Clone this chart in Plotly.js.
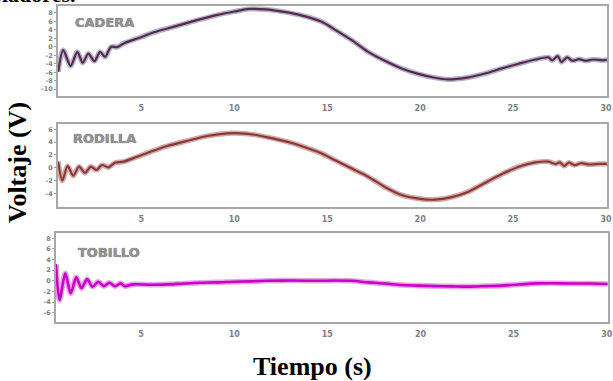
<!DOCTYPE html>
<html>
<head>
<meta charset="utf-8">
<script src="https://cdn.plot.ly/plotly-3.0.1.min.js"></script>
<style>html,body{margin:0;padding:0;background:#fff;}#chart{width:613px;height:381px;}</style>
</head>
<body>
<div id="chart"></div>
<script>
// ---- data ----
const caderaX = [0.53,0.8,1.2,1.56,1.85,2.15,2.48,2.78,3.05,3.38,3.7,4.1,4.95,5.6,6.4,7.3,8.2,9.1,10.0,10.8,11.7,12.7,13.6,14.7,15.5,16.3,17.2,18.1,19.0,19.9,20.8,21.5,22.6,23.5,24.4,25.3,26.2,26.9,27.1,27.4,27.6,27.9,28.2,28.55,28.9,29.3,29.8,30.05];
const caderaY = [-5.9,-0.8,-4.5,-1.2,-3.8,-1.6,-3.4,-1.2,-2.4,0.0,-0.1,0.9,2.2,3.3,4.3,5.4,6.5,7.5,8.3,8.9,8.8,8.2,7.4,5.9,3.8,1.6,-1.2,-3.3,-5.1,-6.4,-7.3,-7.7,-7.2,-6.3,-5.1,-4.0,-3.0,-2.5,-3.2,-2.2,-3.6,-2.5,-3.3,-2.9,-3.3,-3.0,-3.2,-3.1];

const rodillaX = [0.53,0.75,1.04,1.34,1.65,1.97,2.28,2.6,2.88,3.23,3.6,4.04,4.77,5.5,6.4,7.47,8.55,9.63,10.35,11.1,11.8,13.05,13.6,14.65,15.4,16.3,17.2,18.1,19.0,20.1,20.8,21.7,22.6,23.5,24.4,25.3,26.2,26.9,27.3,27.5,27.75,28.0,28.3,28.65,29.1,29.65,30.05];
const rodillaY = [0.94,-2.0,0.27,-1.25,0.16,-0.8,0.16,-0.36,0.42,0.06,0.8,0.94,1.7,2.5,3.4,4.2,4.95,5.37,5.37,5.15,4.75,3.9,3.4,2.3,1.2,-0.1,-1.4,-3.0,-4.27,-4.9,-5.0,-4.6,-3.75,-2.35,-1.0,0.16,0.84,0.94,0.58,0.84,0.27,0.8,0.4,0.7,0.5,0.6,0.6];

const tobilloX = [0.43,0.62,0.93,1.22,1.52,1.8,2.1,2.39,2.7,3.0,3.29,3.6,3.9,4.13,4.58,5.5,6.4,7.3,8.2,9.1,10.0,10.9,11.8,13.2,14.5,15.4,16.3,17.2,18.1,19.0,19.9,20.8,21.7,22.6,23.5,24.4,25.3,26.2,27.1,28.0,29.1,30.05];
const tobilloY = [3.1,-3.6,1.4,-2.35,0.65,-1.4,0.33,-1.1,-0.17,-1.0,-0.36,-1.0,-0.48,-1.0,-0.67,-0.75,-0.67,-0.5,-0.36,-0.3,-0.17,-0.1,0.0,0.05,0.0,0.05,0.0,-0.3,-0.5,-0.8,-0.9,-1.0,-1.05,-1.1,-1.0,-0.9,-0.7,-0.48,-0.45,-0.5,-0.5,-0.6];

const xTicks = [5,10,15,20,25,30];
const caderaTicks = [8,6,4,2,0,-2,-4,-6,-8,-10];
const rodillaTicks = [6,4,2,0,-2,-4];
const tobilloTicks = [8,6,4,2,0,-2,-4,-6];
const panelNames = ["CADERA","RODILLA","TOBILLO"];
const xTitle = "Tiempo (s)";
const yTitle = "Voltaje (V)";
const topFragment = "oladores.";

// ---- helpers ----
const W = 613, H = 381;
const px = v => v / W;
const py = v => 1 - v / H;

function pair(x, y, xa, ya, core, halo, w) {
  return [
    {x:x, y:y, xaxis:xa, yaxis:ya, type:'scatter', mode:'lines', line:{color:halo, width:w+3, shape:'spline', smoothing:0.8}, hoverinfo:'skip'},
    {x:x, y:y, xaxis:xa, yaxis:ya, type:'scatter', mode:'lines', line:{color:core, width:w, shape:'spline', smoothing:0.8}}
  ];
}

const data = [].concat(
  pair(caderaX, caderaY, 'x', 'y', '#5a2a4c', '#b4b4cc', 2.2),
  pair(rodillaX, rodillaY, 'x2', 'y2', '#8c3838', '#d2aaaa', 2.2),
  pair(tobilloX, tobilloY, 'x3', 'y3', '#c800c8', '#e6a6e6', 2.6)
);

const tickFontX = {family:'DejaVu Sans', size:8, color:'#808080', weight:'bold'};
const tickFontY = {family:'DejaVu Sans', size:6.5, color:'#808080', weight:'bold'};

function xax(d0, d1, r, anchor) {
  return {domain:[d0, d1], range:r, anchor:anchor, tickvals:xTicks, ticktext:xTicks.map(String),
    showgrid:false, zeroline:false, showline:true, mirror:true, linecolor:'#a8a8a8', linewidth:2,
    ticks:'outside', ticklen:3, tickcolor:'rgba(0,0,0,0)', tickfont:tickFontX};
}
function yax(d0, d1, r, tv, anchor) {
  return {domain:[d0, d1], range:r, anchor:anchor, tickvals:tv, ticktext:tv.map(String),
    showgrid:false, zeroline:false, showline:true, mirror:true, linecolor:'#a8a8a8', linewidth:2,
    ticks:'outside', ticklen:2, tickcolor:'#999', tickfont:tickFontY, ticklabelstandoff:0};
}

const panelFont = {family:'DejaVu Sans', size:13, color:'#939393', weight:'bold', shadow:'0px 0px 1px #555'};
const serifBold = {family:'Liberation Serif', size:26, color:'#000', weight:'bold'};

const layout = {
  width:W, height:H, margin:{l:0, r:0, t:0, b:0},
  paper_bgcolor:'#fff', plot_bgcolor:'#fff', showlegend:false,
  xaxis:  xax(px(58), px(607), [0.52, 30.05], 'y'),
  yaxis:  yax(py(96), py(6), [-11.6, 9.6], caderaTicks, 'x'),
  xaxis2: xax(px(58), px(607), [0.52, 30.05], 'y2'),
  yaxis2: yax(py(207), py(124), [-6.14, 6.83], rodillaTicks, 'x2'),
  xaxis3: xax(px(56), px(608), [0.43, 30.07], 'y3'),
  yaxis3: yax(py(322), py(233), [-7.75, 9.0], tobilloTicks, 'x3'),
  annotations: [
    {text:panelNames[0], xref:'paper', yref:'paper', x:px(104.5), y:py(22.5), xanchor:'center', yanchor:'middle', showarrow:false, font:panelFont},
    {text:panelNames[1], xref:'paper', yref:'paper', x:px(104.7), y:py(138), xanchor:'center', yanchor:'middle', showarrow:false, font:panelFont},
    {text:panelNames[2], xref:'paper', yref:'paper', x:px(109), y:py(252.7), xanchor:'center', yanchor:'middle', showarrow:false, font:panelFont},
    {text:xTitle, xref:'paper', yref:'paper', x:px(312), y:py(366), xanchor:'center', yanchor:'middle', showarrow:false, font:serifBold},
    {text:yTitle, xref:'paper', yref:'paper', x:px(17), y:py(163), xanchor:'center', yanchor:'middle', showarrow:false, textangle:-90, font:serifBold},
    {text:topFragment, xref:'paper', yref:'paper', x:px(78), y:py(9), xanchor:'right', yanchor:'bottom', showarrow:false, font:{family:'Liberation Serif', size:22, color:'#000', weight:'bold'}}
  ]
};

Plotly.newPlot('chart', data, layout, {staticPlot:true, displayModeBar:false});
</script>
</body>
</html>
